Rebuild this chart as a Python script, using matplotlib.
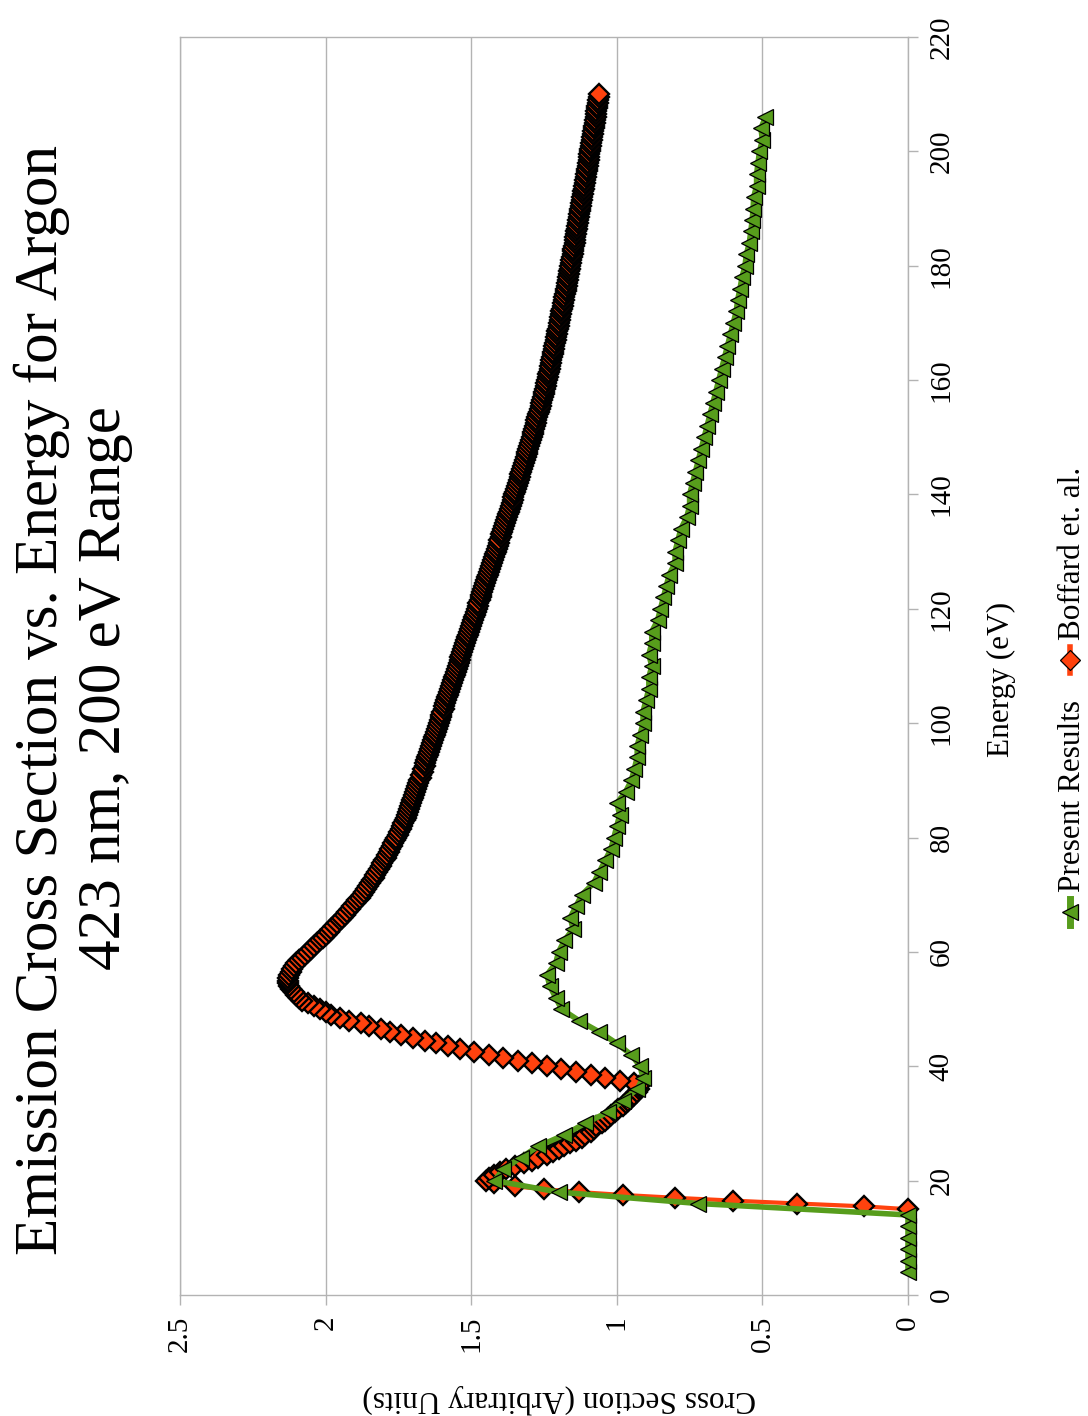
import matplotlib
matplotlib.use("Agg")
import matplotlib.pyplot as plt
from matplotlib.lines import Line2D

plt.rcParams["font.family"] = ["Liberation Serif", "DejaVu Serif"]

title_lines = ["Emission Cross Section vs. Energy for Argon", "423 nm, 200 eV Range"]
energy_label = "Energy (eV)"
cs_label = "Cross Section (Arbitrary Units)"
series_names = ["Present Results", "Boffard et. al."]

energy_ticks = [0, 20, 40, 60, 80, 100, 120, 140, 160, 180, 200, 220]
cs_ticks = [0, 0.5, 1, 1.5, 2, 2.5]
cs_tick_labels = ["0", "0.5", "1", "1.5", "2", "2.5"]

# Present results: 2 eV steps from 4 eV to 206 eV
present_energy = list(range(4, 207, 2))
present_cs = [
    0, 0, 0, 0, 0, 0,
    0.72, 1.20, 1.42, 1.39, 1.33, 1.27, 1.18, 1.11, 1.03, 0.98,
    0.93, 0.91, 0.92, 0.95, 1.00, 1.06, 1.13, 1.19, 1.21, 1.23,
    1.24, 1.21, 1.20, 1.18, 1.15, 1.16, 1.14, 1.12, 1.08, 1.06,
    1.04, 1.02, 1.01, 1.00, 0.99, 1.00, 0.97, 0.95, 0.94, 0.93,
    0.93, 0.92, 0.91, 0.91, 0.90, 0.89, 0.89, 0.88, 0.89, 0.88,
    0.88, 0.86, 0.85, 0.84, 0.83, 0.82, 0.80, 0.80, 0.79, 0.78,
    0.76, 0.75, 0.75, 0.74, 0.73, 0.72, 0.71, 0.70, 0.69, 0.68,
    0.67, 0.66, 0.65, 0.64, 0.63, 0.62, 0.61, 0.60, 0.59, 0.585,
    0.577, 0.57, 0.56, 0.555, 0.545, 0.54, 0.535, 0.532, 0.53, 0.52,
    0.52, 0.515, 0.51, 0.50, 0.505, 0.49,
]

# Boffard et al.: 0.5 eV steps from 15 eV to 210 eV
boffard_energy = [15 + 0.5 * i for i in range(391)]
boffard_cs = [
    0.00, 0.15, 0.38, 0.60, 0.80, 0.98, 1.13, 1.25, 1.35, 1.42,
    1.45, 1.44, 1.42, 1.40, 1.38, 1.35, 1.32, 1.29, 1.27, 1.24,
    1.22, 1.20, 1.18, 1.16, 1.14, 1.12, 1.11, 1.09, 1.08, 1.07,
    1.05, 1.04, 1.03, 1.02, 1.005, 0.995, 0.98, 0.97, 0.96, 0.95,
    0.94, 0.93, 0.925, 0.925, 0.94, 0.99, 1.04, 1.09, 1.14, 1.19,
    1.24, 1.29, 1.34, 1.39, 1.44, 1.49, 1.54, 1.58, 1.62, 1.66,
    1.70, 1.74, 1.78, 1.81, 1.85, 1.88, 1.92, 1.95, 1.98, 2.00,
    2.02, 2.04, 2.06, 2.08, 2.09, 2.10, 2.11, 2.12, 2.125, 2.13,
    2.13, 2.13, 2.125, 2.12, 2.115, 2.11, 2.10, 2.09, 2.08, 2.07,
    # 60 .. 210 eV
    2.060, 2.050, 2.040, 2.030, 2.020, 2.010, 2.000, 1.990, 1.980, 1.970,
    1.960, 1.951, 1.942, 1.933, 1.925, 1.916, 1.908, 1.899, 1.891, 1.883,
    1.875, 1.868, 1.861, 1.854, 1.848, 1.841, 1.835, 1.829, 1.823, 1.817,
    1.811, 1.805, 1.800, 1.794, 1.789, 1.783, 1.778, 1.772, 1.767, 1.762,
    1.757, 1.752, 1.747, 1.742, 1.738, 1.733, 1.729, 1.724, 1.720, 1.716,
    1.713, 1.709, 1.706, 1.702, 1.699, 1.695, 1.692, 1.688, 1.685, 1.681,
    1.678, 1.674, 1.671, 1.667, 1.664, 1.660, 1.657, 1.654, 1.651, 1.647,
    1.644, 1.640, 1.637, 1.634, 1.631, 1.627, 1.624, 1.621, 1.618, 1.615,
    1.612, 1.608, 1.605, 1.602, 1.599, 1.595, 1.592, 1.589, 1.586, 1.582,
    1.579, 1.576, 1.573, 1.569, 1.566, 1.563, 1.560, 1.556, 1.553, 1.550,
    1.547, 1.543, 1.540, 1.537, 1.534, 1.530, 1.527, 1.524, 1.521, 1.517,
    1.514, 1.511, 1.508, 1.504, 1.501, 1.497, 1.494, 1.491, 1.488, 1.484,
    1.481, 1.478, 1.475, 1.471, 1.468, 1.465, 1.462, 1.458, 1.455, 1.451,
    1.448, 1.445, 1.442, 1.438, 1.435, 1.432, 1.429, 1.425, 1.422, 1.419,
    1.416, 1.412, 1.409, 1.406, 1.403, 1.399, 1.396, 1.393, 1.390, 1.386,
    1.383, 1.380, 1.377, 1.373, 1.370, 1.367, 1.364, 1.361, 1.358, 1.355,
    1.352, 1.349, 1.346, 1.343, 1.340, 1.337, 1.334, 1.331, 1.328, 1.325,
    1.322, 1.319, 1.316, 1.313, 1.310, 1.307, 1.304, 1.301, 1.298, 1.295,
    1.292, 1.289, 1.287, 1.284, 1.281, 1.278, 1.276, 1.273, 1.270, 1.267,
    1.265, 1.262, 1.259, 1.256, 1.254, 1.251, 1.249, 1.246, 1.244, 1.242,
    1.240, 1.237, 1.235, 1.233, 1.231, 1.229, 1.227, 1.225, 1.223, 1.220,
    1.218, 1.216, 1.214, 1.212, 1.210, 1.208, 1.206, 1.204, 1.202, 1.200,
    1.198, 1.196, 1.194, 1.192, 1.190, 1.188, 1.186, 1.184, 1.182, 1.180,
    1.178, 1.176, 1.174, 1.172, 1.170, 1.168, 1.167, 1.165, 1.163, 1.161,
    1.160, 1.158, 1.156, 1.154, 1.152, 1.150, 1.149, 1.147, 1.145, 1.143,
    1.142, 1.140, 1.139, 1.137, 1.136, 1.134, 1.132, 1.130, 1.129, 1.127,
    1.126, 1.124, 1.122, 1.120, 1.119, 1.117, 1.116, 1.114, 1.112, 1.110,
    1.109, 1.107, 1.106, 1.104, 1.102, 1.100, 1.099, 1.097, 1.096, 1.094,
    1.093, 1.091, 1.089, 1.087, 1.086, 1.084, 1.083, 1.081, 1.080, 1.078,
    1.076, 1.074, 1.073, 1.071, 1.070, 1.068, 1.067, 1.065, 1.064, 1.062,
    1.061,
]

GREEN = "#579d1c"
ORANGE = "#ff420e"
GRID = "#b3b3b3"

W, H = 1088, 1416
fig = plt.figure(figsize=(W / 100, H / 100), dpi=100)


def fx(px):
    return px / W


def fy(py):
    return (H - py) / H


# The chart is laid out turned a quarter turn: energy runs up the right side,
# cross section runs right-to-left along the bottom.
ax = fig.add_axes([fx(180), fy(1295), fx(908) - fx(180), fy(37) - fy(1295)])
ax.set_xlim(2.5, 0)
ax.set_ylim(0, 220)

ax.plot(boffard_cs, boffard_energy, color=ORANGE, lw=3.0, marker="D", ms=10,
        mfc=ORANGE, mec="black", mew=1.7, zorder=3, clip_on=False)
ax.plot(present_cs, present_energy, color=GREEN, lw=4.0, marker="<", ms=12,
        mfc=GREEN, mec="black", mew=0.9, zorder=4, clip_on=False)

ax.yaxis.tick_right()
ax.set_yticks(energy_ticks)
ax.set_yticklabels([str(t) for t in energy_ticks], rotation=90, va="center")
ax.set_xticks(cs_ticks)
ax.set_xticklabels(cs_tick_labels, rotation=90, ha="center", va="top")
ax.tick_params(axis="both", direction="out", length=7, width=1, color=GRID,
               labelsize=21, pad=8)
ax.grid(axis="x", color=GRID, lw=1)
ax.set_axisbelow(True)
for s in ax.spines.values():
    s.set_color(GRID)
    s.set_linewidth(1)

# Titles and axis titles
fig.text(fx(42), fy(700), title_lines[0], rotation=90, ha="center", va="center", fontsize=44)
fig.text(fx(105), fy(688), title_lines[1], rotation=90, ha="center", va="center", fontsize=44)
fig.text(fx(1001), fy(679), energy_label, rotation=90, ha="center", va="center", fontsize=22.5)
fig.text(fx(559), fy(1399), cs_label, rotation=180, ha="center", va="center", fontsize=22.5)

# Legend, laid along the right edge
legend_items = [
    (series_names[0], GREEN, "<", 12, 4.0, 912),
    (series_names[1], ORANGE, "D", 10, 3.0, 660),
]
for name, col, mk, ms, lw, ypx in legend_items:
    fig.add_artist(Line2D([fx(1070), fx(1070)], [fy(ypx + 13), fy(ypx - 13)],
                          color=col, lw=lw + 1, transform=fig.transFigure))
    fig.add_artist(Line2D([fx(1070)], [fy(ypx)], marker=mk, ms=ms, mfc=col,
                          mec="black", mew=0.9, transform=fig.transFigure))
    fig.text(fx(1072), fy(ypx - 20), name, rotation=90, ha="center", va="bottom",
             fontsize=22.5)

fig.savefig("out.png", dpi=100, facecolor="white")
